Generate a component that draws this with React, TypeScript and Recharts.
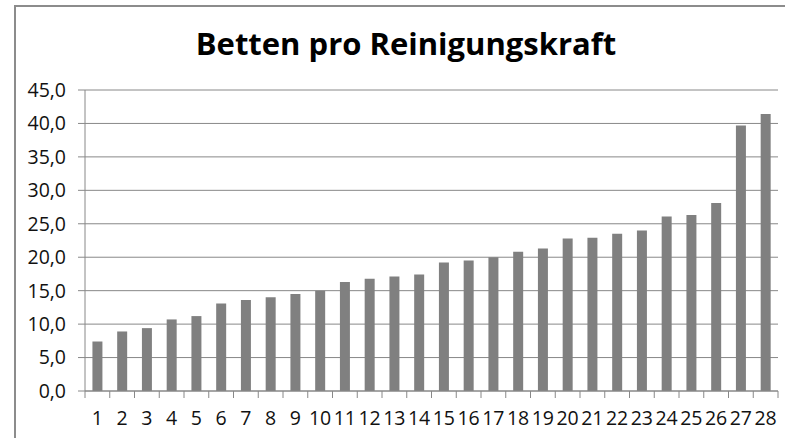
import { BarChart, Bar, XAxis, YAxis, CartesianGrid } from "recharts";

const categories = [
  "1", "2", "3", "4", "5", "6", "7", "8", "9", "10", "11", "12", "13", "14",
  "15", "16", "17", "18", "19", "20", "21", "22", "23", "24", "25", "26", "27", "28",
];
const betten = [
  7.4, 8.9, 9.4, 10.7, 11.2, 13.1, 13.6, 14.0, 14.5, 15.0, 16.3, 16.8, 17.1, 17.4,
  19.2, 19.5, 20.0, 20.8, 21.3, 22.8, 22.9, 23.5, 24.0, 26.1, 26.3, 28.1, 39.7, 41.4,
];
const yTicks = [0, 5, 10, 15, 20, 25, 30, 35, 40, 45];

const data = categories.map((c, i) => ({ name: c, value: betten[i] }));

const W = 785;
const H = 438;
const PLOT_LEFT = 85;
const PLOT_RIGHT = 778;
const BAND = (PLOT_RIGHT - PLOT_LEFT) / categories.length;
const FONT = "'Open Sans', sans-serif";
const GRID = "#888888";

// tick marks sit between the categories, like the spreadsheet original
const XTick = (props: any) => {
  const { x, y, payload, index } = props;
  return (
    <g>
      <line x1={x - BAND / 2} x2={x - BAND / 2} y1={y} y2={y + 7} stroke={GRID} />
      {index === categories.length - 1 && (
        <line x1={x + BAND / 2} x2={x + BAND / 2} y1={y} y2={y + 7} stroke={GRID} />
      )}
      <text x={x} y={y + 34} textAnchor="middle" fontSize={19.5} fontFamily={FONT} fill="#111">
        {payload.value}
      </text>
    </g>
  );
};

export default function App() {
  return (
    <div style={{ position: "absolute", left: 0, top: 0, width: W, height: H, overflow: "hidden", background: "#fff" }}>
      {/* chart frame runs off the right and bottom of the picture */}
      <div
        style={{
          position: "absolute",
          left: 14,
          top: 5,
          width: W,
          height: H,
          borderTop: "2px solid #8c8c8c",
          borderLeft: "2px solid #8c8c8c",
          boxSizing: "border-box",
        }}
      />
      <div
        style={{
          position: "absolute",
          left: 0,
          top: 23,
          width: 812,
          textAlign: "center",
          fontFamily: FONT,
          fontWeight: 700,
          fontSize: 31,
          color: "#000",
          lineHeight: "40px",
        }}
      >
        Betten pro Reinigungskraft
      </div>
      <div style={{ position: "absolute", left: 0, top: 0 }}>
        <BarChart
          width={W}
          height={H}
          data={data}
          margin={{ top: 90, right: W - PLOT_RIGHT, bottom: 0, left: 0 }}
          barCategoryGap="30%"
        >
          <CartesianGrid vertical={false} stroke={GRID} strokeWidth={1} />
          <XAxis
            dataKey="name"
            height={47}
            interval={0}
            tickLine={false}
            tickSize={0}
            tickMargin={0}
            axisLine={{ stroke: GRID }}
            tick={<XTick />}
          />
          <YAxis
            width={PLOT_LEFT}
            domain={[0, 45]}
            ticks={yTicks}
            interval={0}
            tickSize={7}
            tickMargin={12}
            tickLine={{ stroke: GRID }}
            axisLine={{ stroke: GRID }}
            tick={{ fontSize: 19.5, fontFamily: FONT, fill: "#111" }}
            tickFormatter={(v: number) => v.toFixed(1).replace(".", ",")}
          />
          <Bar dataKey="value" fill="#808080" isAnimationActive={false} />
        </BarChart>
      </div>
    </div>
  );
}
